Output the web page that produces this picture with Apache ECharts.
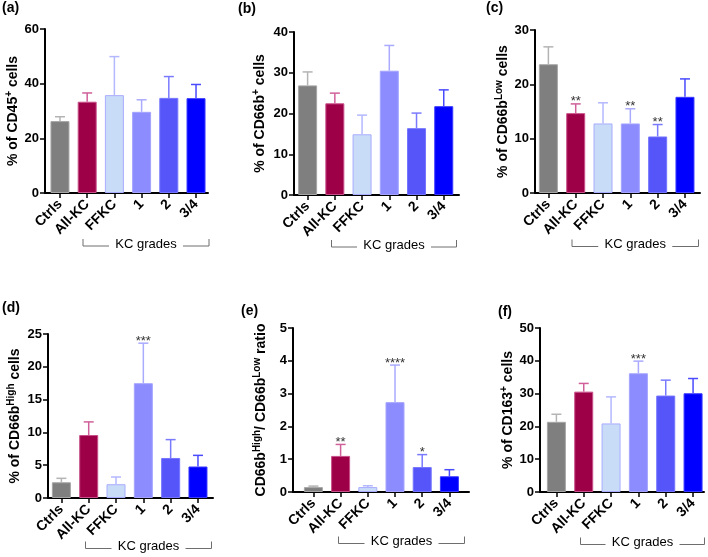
<!DOCTYPE html>
<html>
<head>
<meta charset="utf-8">
<script src="https://cdn.jsdelivr.net/npm/echarts@6/dist/echarts.min.js"></script>
<style>
html,body{margin:0;padding:0;background:#fff;}
#main{width:708px;height:557px;}
</style>
</head>
<body>
<div id="main"></div>
<script>
// ---- data ----
const categories = ['Ctrls', 'All-KC', 'FFKC', '1', '2', '3/4'];

const meanA = [26.3, 33.4, 35.8, 29.7, 34.8, 34.7];
const semA  = [1.6, 3.2, 14.1, 4.4, 7.8, 5.0];
const starsA = ['', '', '', '', '', ''];

const meanB = [26.9, 22.5, 14.9, 30.5, 16.4, 21.8];
const semB  = [3.3, 2.5, 4.7, 6.2, 3.7, 4.0];
const starsB = ['', '', '', '', '', ''];

const meanC = [23.7, 14.7, 12.8, 12.8, 10.4, 17.7];
const semC  = [3.2, 1.7, 3.8, 2.7, 2.2, 3.3];
const starsC = ['', '**', '', '**', '**', ''];

const meanD = [2.4, 9.6, 2.1, 17.5, 6.1, 4.8];
const semD  = [0.6, 2.0, 1.1, 6.1, 2.8, 1.7];
const starsD = ['', '', '', '***', '', ''];

const meanE = [0.15, 1.1, 0.15, 2.74, 0.76, 0.48];
const semE  = [0.03, 0.35, 0.04, 1.13, 0.38, 0.2];
const starsE = ['', '**', '', '****', '*', ''];

const meanF = [21.4, 30.6, 20.9, 36.2, 29.4, 30.1];
const semF  = [2.3, 2.5, 8.1, 3.7, 4.7, 4.5];
const starsF = ['', '', '', '***', '', ''];

const yTicksMax = [60, 40, 30, 25, 5, 50];
const yTicksStep = [20, 10, 10, 5, 1, 10];

const panelLetters = ['(a)', '(b)', '(c)', '(d)', '(e)', '(f)'];
const yTitles = [
  '{t|% of CD45}{s|+}{t| cells}',
  '{t|% of CD66b}{s|+}{t| cells}',
  '{t|% of CD66b}{s|Low}{t| cells}',
  '{t|% of CD66b}{s|High}{t| cells}',
  '{t|CD66b}{s|High}{t|/ CD66b}{s|Low}{t| ratio}',
  '{t|% of CD163}{s|+}{t| cells}'
];
const groupLabel = 'KC grades';

// ---- styles ----
const fills   = ['#7f7f7f', '#9e0048', '#c8dcf8', '#8c8cff', '#5555fa', '#0000ff'];
const borders = ['#a6a6a6', '#c8508a', '#a9acff', '#a4a4ff', '#7474ff', '#3a3aff'];
const errCols = ['#b4b4b4', '#d0609a', '#b4b8ff', '#aaaaff', '#7a7aff', '#4a4aff'];

const FONT = '"Liberation Sans", Arial, sans-serif';

const layout = [
  {left: 45,  top: 29,  width: 163, height: 164, xmin: -0.55, xmax: 5.44, gap: 23, lab: [2, 9],   br: [83, 209, 246]},
  {left: 294, top: 32,  width: 165, height: 163, xmin: -0.50, xmax: 5.56, gap: 27, lab: [238, 10], br: [331.5, 456.5, 247]},
  {left: 535, top: 30,  width: 165, height: 163, xmin: -0.49, xmax: 5.55, gap: 25, lab: [486, 9],  br: [572, 698.5, 246.5]},
  {left: 48,  top: 334, width: 165, height: 164, xmin: -0.49, xmax: 5.55, gap: 26, lab: [2, 309],  br: [85.5, 211.5, 548.5]},
  {left: 293, top: 328, width: 176, height: 164, xmin: -0.75, xmax: 5.72, gap: 25, lab: [241, 312], br: [338.5, 464.5, 543.5]},
  {left: 540, top: 328, width: 164, height: 164, xmin: -0.60, xmax: 5.40, gap: 21, lab: [498, 313], br: [580.5, 704.5, 544.5]}
];

const means = [meanA, meanB, meanC, meanD, meanE, meanF];
const sems = [semA, semB, semC, semD, semE, semF];
const stars = [starsA, starsB, starsC, starsD, starsE, starsF];

const grids = [], xAxes = [], yAxes = [], series = [], graphics = [];

layout.forEach((L, i) => {
  grids.push({left: L.left, top: L.top, width: L.width, height: L.height, containLabel: false});
  xAxes.push({
    type: 'value', gridIndex: i, min: L.xmin, max: L.xmax,
    axisLine: {show: true, onZero: false, lineStyle: {color: '#000', width: 2}},
    axisTick: {show: true, customValues: [0, 1, 2, 3, 4, 5], length: 5, lineStyle: {color: '#000', width: 1.5}},
    axisLabel: {
      customValues: [0, 1, 2, 3, 4, 5],
      formatter: v => categories[Math.round(v)],
      rotate: 45, margin: 9, color: '#000', fontWeight: 'bold', fontSize: 14, fontFamily: FONT
    },
    splitLine: {show: false}
  });
  yAxes.push({
    type: 'value', gridIndex: i, min: 0, max: yTicksMax[i], interval: yTicksStep[i],
    axisLine: {show: true, onZero: false, lineStyle: {color: '#000', width: 2}},
    axisTick: {show: true, length: 5, lineStyle: {color: '#000', width: 1.5}},
    axisLabel: {margin: 6, color: '#000', fontWeight: 'bold', fontSize: 13, fontFamily: FONT},
    splitLine: {show: false},
    name: yTitles[i], nameLocation: 'middle', nameGap: L.gap, nameRotate: 90,
    nameTextStyle: {
      rich: {
        t: {fontSize: 14, fontWeight: 'bold', color: '#000', fontFamily: FONT, lineHeight: 16, verticalAlign: 'bottom'},
        s: {fontSize: 10, fontWeight: 'bold', color: '#000', fontFamily: FONT, lineHeight: 10, verticalAlign: 'top'}
      }
    }
  });
  const m = means[i], s = sems[i], st = stars[i];
  series.push({
    type: 'bar', xAxisIndex: i, yAxisIndex: i, barWidth: 19,
    data: m.map((v, j) => ({value: [j, v], itemStyle: {color: fills[j], borderColor: borders[j], borderWidth: 1}})),
    z: 2
  });
  series.push({
    type: 'custom', xAxisIndex: i, yAxisIndex: i, clip: false, z: 3,
    data: m.map((v, j) => [j, v, v + s[j]]),
    renderItem: (params, api) => {
      const x = api.value(0), mv = api.value(1), ev = api.value(2);
      const p0 = api.coord([x, mv]), p1 = api.coord([x, ev]);
      const col = errCols[params.dataIndex];
      const ch = [
        {type: 'line', shape: {x1: p0[0], y1: p0[1], x2: p1[0], y2: p1[1]}, style: {stroke: col, lineWidth: 1.5}},
        {type: 'line', shape: {x1: p1[0] - 5, y1: p1[1], x2: p1[0] + 5, y2: p1[1]}, style: {stroke: col, lineWidth: 1.5}}
      ];
      const sv = st[params.dataIndex];
      if (sv) {
        ch.push({type: 'text', x: p1[0], y: p1[1] - 2,
          style: {text: sv, fill: '#333', fontSize: 13, fontFamily: FONT, align: 'center', verticalAlign: 'middle'}});
      }
      return {type: 'group', children: ch};
    }
  });
  // panel letter
  graphics.push({type: 'text', left: L.lab[0], top: L.lab[1] - 8,
    style: {text: panelLetters[i], fill: '#000', fontSize: 14, fontWeight: 'bold', fontFamily: FONT}});
  // KC grades bracket
  const [x1, x2, y] = L.br;
  const cx = (x1 + x2) / 2;
  const lc = '#6e6e6e';
  graphics.push({type: 'polyline', shape: {points: [[x1, y - 7], [x1, y], [cx - 37, y]]}, style: {stroke: lc, lineWidth: 1, fill: null}});
  graphics.push({type: 'polyline', shape: {points: [[cx + 37, y], [x2, y], [x2, y - 7]]}, style: {stroke: lc, lineWidth: 1, fill: null}});
  graphics.push({type: 'text', x: cx, y: y - 2,
    style: {text: groupLabel, fill: '#000', fontSize: 13, fontFamily: FONT, align: 'center', verticalAlign: 'middle'}});
});

const chart = echarts.init(document.getElementById('main'), null, {renderer: 'canvas'});
chart.setOption({
  backgroundColor: '#fff',
  animation: false,
  grid: grids,
  xAxis: xAxes,
  yAxis: yAxes,
  series: series,
  graphic: graphics
});
</script>
</body>
</html>
